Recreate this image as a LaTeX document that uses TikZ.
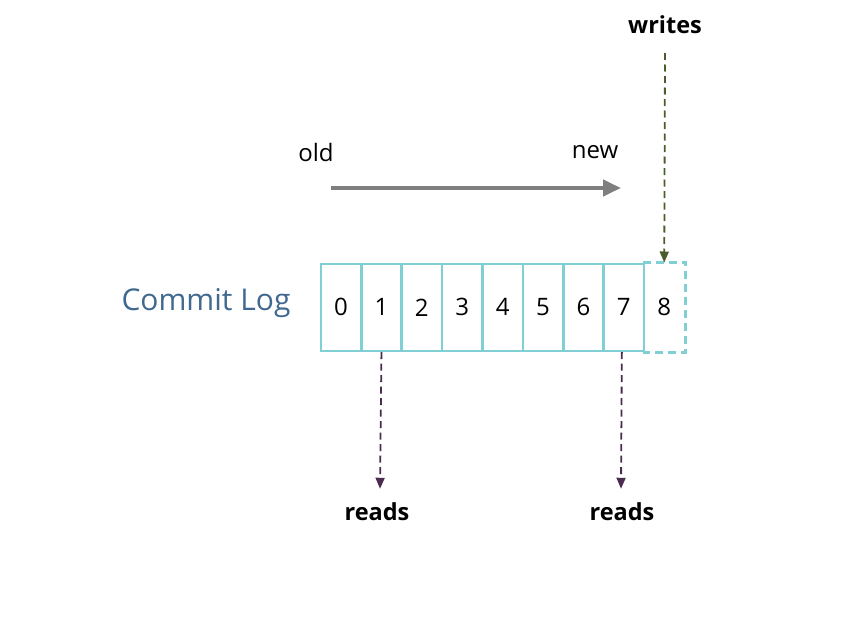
\documentclass[tikz,border=0pt]{standalone}
\usepackage{fontspec}
\setmainfont{Open Sans}
\usetikzlibrary{arrows.meta,calc}
\definecolor{cellc}{HTML}{7FCFD4}
\definecolor{logc}{HTML}{41698F}
\definecolor{wrc}{HTML}{4B5E2A}
\definecolor{rdc}{HTML}{4B2C50}
\definecolor{oldc}{HTML}{7F7F7F}
\tikzset{
  cellbox/.style={draw=cellc, line width=2.7pt, minimum width=40.4pt, minimum height=87pt, inner sep=0pt, anchor=north west, font=\fontsize{24}{28}\selectfont},
  lbl/.style={font=\fontsize{24}{28}\selectfont, inner sep=0pt},
  blbl/.style={font=\fontsize{23.5}{28}\selectfont\bfseries, inner sep=0pt},
  wrarrow/.style={draw=wrc, line width=1.8pt, dash pattern=on 7pt off 4.5pt, -{Triangle[length=11pt,width=9pt]}},
  rdarrow/.style={draw=rdc, line width=1.8pt, dash pattern=on 7pt off 4.5pt, -{Triangle[length=11pt,width=9pt]}},
}
\begin{document}
\begin{tikzpicture}[x=1pt,y=-1pt]
\useasboundingbox (0,0) rectangle (862,621);
% cells
\foreach \i in {0,...,7} {
  \node[cellbox] (c\i) at ({319.5+40.4*\i},262.5) {\i};
}
\node[cellbox, draw=none] (c8) at ({319.5+40.4*8},262.5) {8};
\draw[cellc, line width=2.7pt, dash pattern=on 8pt off 5pt] (c8.north west) -- (c8.north east) -- (c8.south east) -- (c8.south west);
\node[font=\fontsize{30}{36}\selectfont, text=logc, inner sep=0pt] (log) at (206,303) {Commit Log};
% old new
\node[lbl] (old) at (316,152) {old};
\node[lbl] (new) at (595,152) {new};
\coordinate (a1) at (331,188);
\coordinate (a2) at (621,188);
\draw[oldc, line width=4pt, -{Triangle[length=18pt,width=16pt]}] (a1) -- (a2);
% writes
\node[blbl] (writes) at (665,25) {writes};
\coordinate (w0) at (665,53);
\draw[wrarrow] (w0) -- (c8.north);
% reads
\node[blbl] (r1) at (377,512) {reads};
\node[blbl] (r2) at (622,512) {reads};
\draw[rdarrow] ($(c1.south)+(0,0)$) -- ($(r1.north)+(3,-14)$);
\draw[rdarrow] ($(c7.south)+(-2,0)$) -- ($(r2.north)+(-1,-14)$);
\end{tikzpicture}
\end{document}
